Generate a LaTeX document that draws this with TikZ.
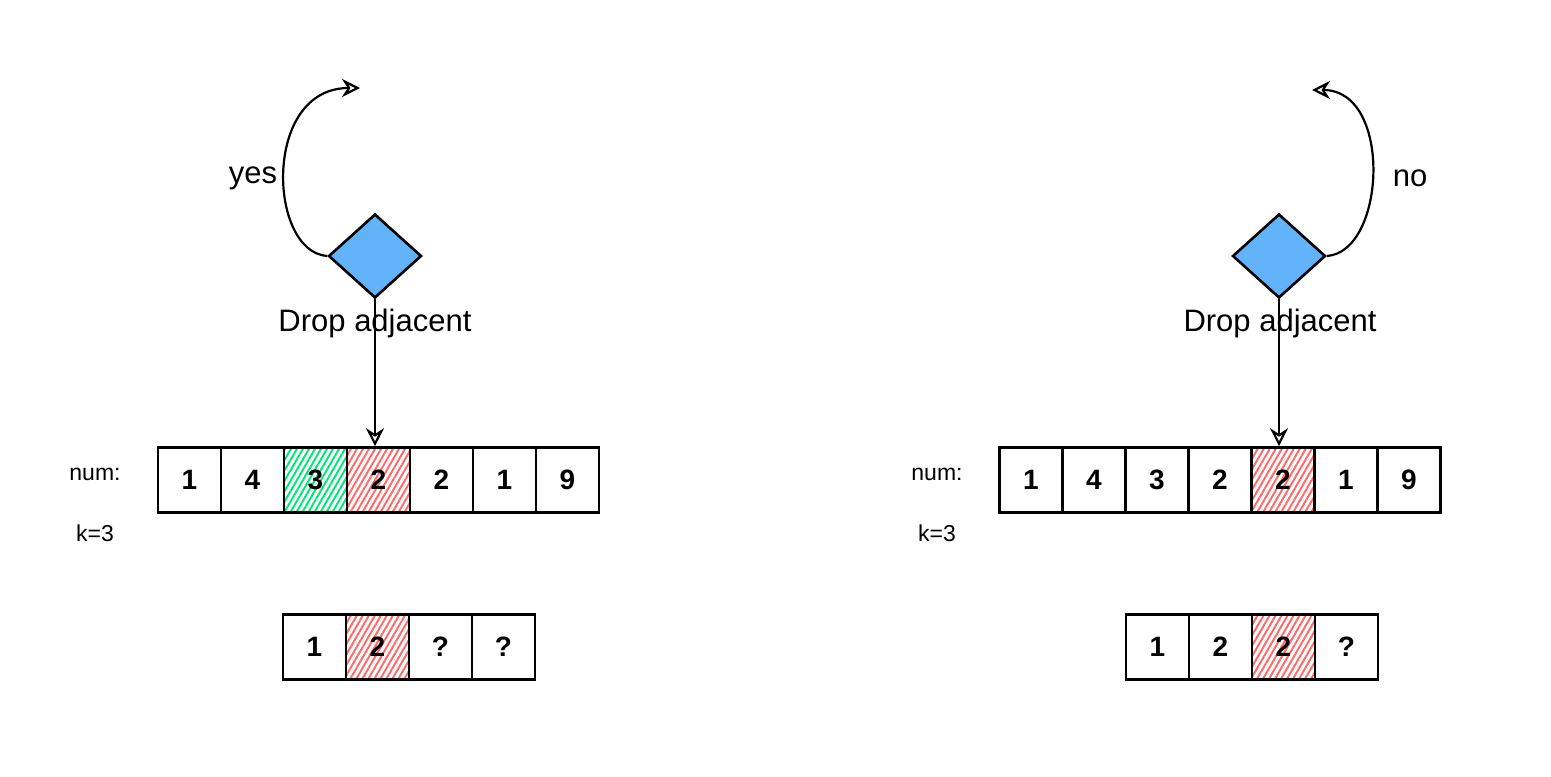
\documentclass[tikz,border=0pt]{standalone}
\usepackage{fontspec}
\setmainfont{Liberation Sans}
\usetikzlibrary{shapes.geometric,arrows.meta,patterns.meta}

\definecolor{decblue}{RGB}{99,179,251}
\definecolor{keepgreen}{RGB}{0,232,120}
\definecolor{dropred}{RGB}{255,107,107}

\tikzset{
  cell/.style={draw, line width=1.3pt, minimum width=31.5pt, minimum height=32.5pt,
    inner sep=0pt, font=\bfseries\fontsize{14}{14}\selectfont},
  redcell/.style={cell, pattern={Lines[angle=60,distance=2.6pt,line width=1pt]}, pattern color=dropred},
  greencell/.style={cell, pattern={Lines[angle=60,distance=2.6pt,line width=1pt]}, pattern color=keepgreen},
  decision/.style={diamond, draw, line width=1.3pt, fill=decblue, minimum width=46.5pt,
    minimum height=42pt, inner sep=0pt},
  lbl/.style={font=\fontsize{15.5}{15.5}\selectfont},
  small/.style={font=\fontsize{11.5}{11.5}\selectfont},
  arr/.style={line width=1.1pt, -{Stealth[open,length=9pt,width=9pt]}}
}

\begin{document}
\begin{tikzpicture}[x=0.5pt,y=-0.5pt]
  \useasboundingbox (0,0) rectangle (1551,776);

  % left side: the drop is taken
  \node[small] (lnum) at (95,474) {num:};
  \node[small] (lk) at (95,533) {k=3};
  \foreach \v/\s [count=\i] in {1/cell,4/cell,3/greencell,2/redcell,2/cell,1/cell,9/cell}
    \node[\s] (la\i) at ({189.5+63*(\i-1)},480) {\v};
  \foreach \v/\s [count=\i] in {1/cell,2/redcell,?/cell,?/cell}
    \node[\s] (lb\i) at ({314.5+63*(\i-1)},647) {\v};

  \node[decision] (ld) at (375,256) {};
  \node[lbl] (ldrop) at (375,323) {Drop adjacent};
  \coordinate (lend) at (360,88);
  \draw[arr] (ld.west) .. controls (268,252) and (262,88) .. (lend);
  \node[lbl] (lyes) at (253,178) {yes};
  \draw[arr] (ld.south) -- (ld.south |- la4.north);

  % right side: the drop is not taken
  \node[small] (rnum) at (937,474) {num:};
  \node[small] (rk) at (937,533) {k=3};
  \foreach \v/\s [count=\i] in {1/cell,4/cell,3/cell,2/cell,2/redcell,1/cell,9/cell}
    \node[\s] (ra\i) at ({1031+63*(\i-1)},480) {\v};
  \foreach \v/\s [count=\i] in {1/cell,2/cell,2/redcell,?/cell}
    \node[\s] (rb\i) at ({1157.5+63*(\i-1)},647) {\v};

  \node[decision] (rd) at (1279,256) {};
  \node[lbl] (rdrop) at (1280,323) {Drop adjacent};
  \coordinate (rend) at (1312,90);
  \draw[arr] (rd.east) .. controls (1386,252) and (1393,90) .. (rend);
  \node[lbl] (rno) at (1410,178) {no};
  \draw[arr] (rd.south) -- (rd.south |- ra5.north);
\end{tikzpicture}
\end{document}
